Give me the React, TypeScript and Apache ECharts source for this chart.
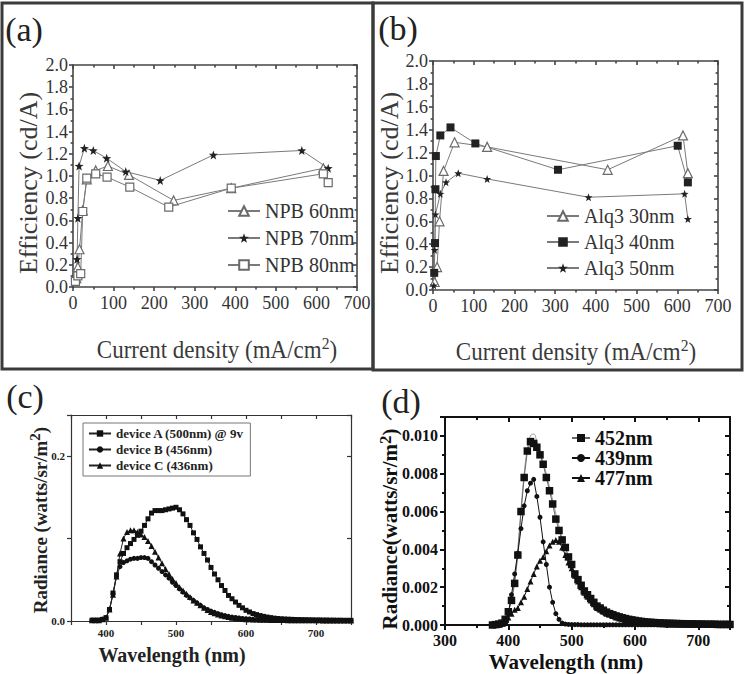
import React, { useEffect, useRef } from 'react';
import * as echarts from 'echarts';

const SERIF = 'Liberation Serif';

// ---- (a) efficiency vs current density, NPB thickness series [mA/cm2, cd/A]
const npb60: [number, number][] = [
  [8, 0.08], [12, 0.18], [16, 0.34], [24, 0.69], [34, 0.97], [56, 1.05],
  [86, 1.09], [138, 1.01], [248, 0.78], [390, 0.89], [617, 1.07],
];
const npb70: [number, number][] = [
  [8, 0.07], [10, 0.25], [12, 0.62], [15, 1.09], [28, 1.25], [50, 1.23],
  [83, 1.16], [130, 1.04], [215, 0.96], [346, 1.19], [564, 1.23], [629, 1.07],
];
const npb80: [number, number][] = [
  [6, 0.05], [12, 0.1], [19, 0.12], [24, 0.68], [34, 0.98], [56, 1.02],
  [84, 0.99], [140, 0.9], [236, 0.72], [390, 0.89], [617, 1.02], [629, 0.94],
];

// ---- (b) efficiency vs current density, Alq3 thickness series
const alq30: [number, number][] = [
  [4, 0.07], [10, 0.2], [16, 0.6], [26, 1.04], [53, 1.29], [133, 1.25],
  [429, 1.05], [614, 1.35], [626, 1.02],
];
const alq40: [number, number][] = [
  [3, 0.15], [5, 0.41], [6, 0.88], [7, 1.17], [18, 1.35], [43, 1.42],
  [104, 1.28], [307, 1.05], [601, 1.26], [626, 0.94],
];
const alq50: [number, number][] = [
  [2, 0.04], [4, 0.35], [6, 0.66], [18, 0.84], [32, 0.94], [62, 1.02],
  [133, 0.97], [382, 0.81], [618, 0.84], [626, 0.62],
];

// ---- (c) radiance spectra, sampled every 5 nm from 380 to 750 nm
const wlCStart = 380;
const devA = [
  0.001, 0.001, 0.001, 0.002, 0.004,
  0.014, 0.034, 0.056, 0.072, 0.082, 0.089, 0.094, 0.099, 0.104, 0.109,
  0.116, 0.124, 0.131, 0.134, 0.134, 0.134, 0.135, 0.136, 0.137, 0.138,
  0.135, 0.130, 0.123, 0.116, 0.107, 0.099, 0.090, 0.082, 0.074, 0.065,
  0.057, 0.050, 0.043, 0.037, 0.031, 0.027, 0.023, 0.019, 0.016, 0.013,
  0.011, 0.009, 0.0078, 0.0066, 0.0056, 0.0048, 0.0041, 0.0035, 0.003, 0.0027,
  0.0024, 0.0022, 0.002, 0.0018, 0.0017, 0.0016, 0.0015, 0.0014, 0.0013, 0.0012,
  0.0012, 0.0011, 0.0011, 0.001, 0.001, 0.0009, 0.0009, 0.0008, 0.0008, 0.0008,
];
const devB = [
  0.001, 0.001, 0.001, 0.002, 0.004,
  0.014, 0.033, 0.054, 0.066, 0.071, 0.073, 0.075, 0.076, 0.076, 0.077,
  0.077, 0.076, 0.072, 0.068, 0.064, 0.060, 0.056, 0.052, 0.047, 0.043,
  0.039, 0.035, 0.031, 0.028, 0.025, 0.022, 0.019, 0.016, 0.014, 0.012,
  0.0105, 0.009, 0.0077, 0.0066, 0.0056, 0.0048, 0.0042, 0.0036, 0.0031, 0.0027,
  0.0024, 0.0021, 0.0019, 0.0017, 0.0016, 0.0015, 0.0014, 0.0013, 0.0013, 0.0012,
  0.0012, 0.0011, 0.0011, 0.001, 0.001, 0.001, 0.0009, 0.0009, 0.0009, 0.0008,
  0.0008, 0.0008, 0.0008, 0.0007, 0.0007, 0.0007, 0.0007, 0.0007, 0.0007, 0.0007,
];
const devC = [
  0.001, 0.001, 0.001, 0.002, 0.004,
  0.014, 0.032, 0.054, 0.082, 0.100, 0.108, 0.110, 0.110, 0.108, 0.105,
  0.102, 0.097, 0.091, 0.084, 0.077, 0.070, 0.063, 0.057, 0.051, 0.046,
  0.041, 0.037, 0.033, 0.029, 0.025, 0.022, 0.019, 0.016, 0.0135, 0.011,
  0.0095, 0.008, 0.0068, 0.0057, 0.0048, 0.004, 0.0034, 0.0029, 0.0025, 0.0022,
  0.002, 0.0018, 0.0017, 0.0016, 0.0015, 0.0014, 0.0013, 0.0012, 0.0012, 0.0011,
  0.0011, 0.001, 0.001, 0.001, 0.0009, 0.0009, 0.0009, 0.0008, 0.0008, 0.0008,
  0.0008, 0.0007, 0.0007, 0.0007, 0.0007, 0.0007, 0.0006, 0.0006, 0.0006, 0.0006,
];

// ---- (d) radiance spectra, sampled every 5 nm from 375 to 750 nm
const wlDStart = 375;
const peak452 = [
  0, 0.00002, 0.00005, 0.0001, 0.0003, 0.0007,
  0.0013, 0.0022, 0.0037, 0.0060, 0.0078, 0.0092, 0.0097, 0.0096, 0.0094, 0.0090,
  0.0085, 0.0078, 0.0071, 0.0064, 0.0056, 0.0050, 0.0045, 0.0041, 0.0036, 0.0032,
  0.0027, 0.0024, 0.0021, 0.0018, 0.0016, 0.0014, 0.0012, 0.0010, 0.0009, 0.00078,
  0.00068, 0.0006, 0.00054, 0.00048, 0.00043, 0.00038, 0.00034, 0.0003, 0.00027, 0.00024,
  0.00021, 0.00019, 0.00017, 0.00015, 0.00014, 0.00013, 0.00012, 0.00011, 0.0001, 0.00009,
  0.00009, 0.00008, 0.00008, 0.00007, 0.00007, 0.00006, 0.00006, 0.00006, 0.00005, 0.00005,
  0.00005, 0.00004, 0.00004, 0.00004, 0.00004, 0.00003, 0.00003, 0.00003, 0.00003, 0.00003,
];
const peak439 = [
  0, 0, 0, 0.00003, 0.0001, 0.0006,
  0.0016, 0.0027, 0.0038, 0.0051, 0.0063, 0.0071, 0.0075, 0.0077, 0.0068, 0.0057,
  0.0044, 0.0032, 0.0020, 0.0012, 0.0006, 0.0003, 0.0001, 0.00005, 0.00003, 0.00002,
  0.00002, 0.00002, 0.00001, 0.00001, 0.00001, 0.00001, 0.00001, 0.00001, 0.00001, 0.00001,
  0.00001, 0.00001, 0.00001, 0.00001, 0.00001, 0.00001, 0.00001, 0.00001, 0.00001, 0.00001,
  0.00001, 0.00001, 0.00001, 0.00001, 0.00001, 0.00001, 0.00001, 0.00001, 0.00001, 0.00001,
  0.00001, 0.00001, 0.00001, 0.00001, 0.00001, 0.00001, 0.00001, 0.00001, 0.00001, 0.00001,
  0.00001, 0.00001, 0.00001, 0.00001, 0.00001, 0.00001, 0.00001, 0.00001, 0.00001, 0.00001,
];
const peak477 = [
  0, 0, 0.00003, 0.0001, 0.0002, 0.0004,
  0.0006, 0.0008, 0.0009, 0.0012, 0.0015, 0.0019, 0.0023, 0.0027, 0.0031, 0.0034,
  0.0036, 0.0039, 0.0042, 0.0044, 0.0045, 0.0044, 0.0041, 0.0037, 0.0033, 0.0030,
  0.0026, 0.0023, 0.0020, 0.0017, 0.0015, 0.0013, 0.0011, 0.0009, 0.0008, 0.0007,
  0.0006, 0.00055, 0.00047, 0.0004, 0.00035, 0.0003, 0.00025, 0.0002, 0.00017, 0.00015,
  0.00012, 0.0001, 0.00008, 0.00007, 0.00006, 0.00005, 0.00005, 0.00004, 0.00004, 0.00003,
  0.00003, 0.00003, 0.00003, 0.00002, 0.00002, 0.00002, 0.00002, 0.00002, 0.00002, 0.00002,
  0.00002, 0.00002, 0.00002, 0.00002, 0.00002, 0.00002, 0.00002, 0.00002, 0.00002, 0.00002,
];
// thin smooth trace drawn over the 452nm spectrum
const traceWl = [395, 400, 405, 410, 415, 420, 425, 430, 435, 440, 445, 450, 455, 460, 465, 470, 475, 480, 485, 490, 495, 500];
const traceVal = [
  0.0003, 0.0007, 0.0014, 0.0025, 0.0041, 0.0061, 0.0080, 0.0093, 0.0100, 0.0101, 0.0097,
  0.0092, 0.0086, 0.0080, 0.0073, 0.0066, 0.0059, 0.0052, 0.0046, 0.0041, 0.0036, 0.0032,
];

const STAR =
  'path://M0,-10L2.35,-3.24L9.51,-3.09L3.8,1.24L5.88,8.09L0,4L-5.88,8.09L-3.8,1.24L-9.51,-3.09L-2.35,-3.24Z';

const onGrid = (start: number, vals: number[]) => vals.map((v, i) => [start + i * 5, v]);

type AxisCfg = {
  min: number; max: number; interval: number; minorSplit: number;
  color: string; width: number; tickLen: number;
  label: (v: number) => string; font: any; margin: number;
};

function boxAxes(grid: number, x: AxisCfg, y: AxisCfg) {
  const mk = (c: AxisCfg, position: string, main: boolean) => ({
    type: 'value',
    gridIndex: grid,
    position,
    min: c.min,
    max: c.max,
    interval: c.interval,
    axisLine: { show: true, onZero: false, lineStyle: { color: c.color, width: c.width } },
    axisTick: { show: true, inside: !main, length: c.tickLen, lineStyle: { color: c.color, width: c.width } },
    minorTick: { show: true, splitNumber: c.minorSplit, length: c.tickLen * 0.6, lineStyle: { color: c.color, width: c.width } },
    splitLine: { show: false },
    minorSplitLine: { show: false },
    axisLabel: main
      ? { show: true, formatter: c.label, margin: c.margin, showMinLabel: true, showMaxLabel: true, ...c.font }
      : { show: false },
  });
  return {
    xAxes: [mk(x, 'bottom', true), mk(x, 'top', false)],
    yAxes: [mk(y, 'left', true), mk(y, 'right', false)],
  };
}

export default function App() {
  const ref = useRef<HTMLDivElement>(null);

  useEffect(() => {
    if (!ref.current) return;
    const chart = echarts.init(ref.current, undefined, { renderer: 'svg' });

    const grayAx = '#454545';
    const serifTick = { fontFamily: SERIF, fontSize: 18, color: '#333' };
    const effX: AxisCfg = {
      min: 0, max: 700, interval: 100, minorSplit: 2, color: grayAx, width: 1.6, tickLen: 4,
      label: (v) => String(v), font: serifTick, margin: 7,
    };
    const effY: AxisCfg = {
      min: 0, max: 2, interval: 0.2, minorSplit: 2, color: grayAx, width: 1.6, tickLen: 4,
      label: (v) => v.toFixed(1), font: serifTick, margin: 5,
    };
    const a = boxAxes(0, effX, effY);
    const b = boxAxes(1, effX, effY);
    const c = boxAxes(
      2,
      {
        min: 350, max: 750, interval: 50, minorSplit: 1, color: '#333', width: 1.2, tickLen: 4,
        label: (v) => (v % 100 === 0 && v >= 400 && v <= 700 ? String(v) : ''),
        font: { fontFamily: SERIF, fontSize: 11, fontWeight: 'bold', color: '#222' }, margin: 6,
      },
      {
        min: 0, max: 0.25, interval: 0.1, minorSplit: 1, color: '#333', width: 1.2, tickLen: 4,
        label: (v) => (Math.abs(v) < 1e-9 ? '0.0' : Math.abs(v - 0.2) < 1e-9 ? '0.2' : ''),
        font: { fontFamily: SERIF, fontSize: 11, fontWeight: 'bold', color: '#222' }, margin: 6,
      },
    );
    const d = boxAxes(
      3,
      {
        min: 300, max: 750, interval: 100, minorSplit: 2, color: '#111', width: 2, tickLen: 5,
        label: (v) => (v <= 700 ? String(v) : ''),
        font: { fontFamily: SERIF, fontSize: 16, fontWeight: 'bold', color: '#111' }, margin: 7,
      },
      {
        min: 0, max: 0.011, interval: 0.002, minorSplit: 2, color: '#111', width: 2, tickLen: 5,
        label: (v) => (v <= 0.0105 ? v.toFixed(3) : ''),
        font: { fontFamily: SERIF, fontSize: 16, fontWeight: 'bold', color: '#111' }, margin: 7,
      },
    );

    const xAxis = [...a.xAxes, ...b.xAxes, ...c.xAxes, ...d.xAxes];
    const yAxis = [...a.yAxes, ...b.yAxes, ...c.yAxes, ...d.yAxes];

    const effLine = (
      name: string, data: [number, number][], gi: number, symbol: string, size: number, filled: boolean,
    ) => ({
      name,
      type: 'line',
      xAxisIndex: gi * 2,
      yAxisIndex: gi * 2,
      data,
      symbol,
      symbolSize: size,
      showAllSymbol: true,
      lineStyle: { color: '#7a7a7a', width: 1 },
      itemStyle: filled
        ? { color: '#222', borderColor: '#222', borderWidth: 0 }
        : { color: '#fff', borderColor: '#6a6a6a', borderWidth: 1.2 },
      emphasis: { disabled: true },
    });

    const specLine = (
      name: string, data: number[][], gi: number, symbol: string, size: number, lineColor: string,
    ) => ({
      name,
      type: 'line',
      xAxisIndex: gi * 2,
      yAxisIndex: gi * 2,
      data,
      symbol,
      symbolSize: size,
      showAllSymbol: true,
      lineStyle: { color: lineColor, width: 1 },
      itemStyle: { color: '#111', borderWidth: 0 },
      emphasis: { disabled: true },
    });

    const series: any[] = [
      effLine('NPB 60nm', npb60, 0, 'triangle', 9, false),
      effLine('NPB 70nm', npb70, 0, STAR, 9, true),
      effLine('NPB 80nm', npb80, 0, 'rect', 8, false),
      effLine('Alq3 30nm', alq30, 1, 'triangle', 9, false),
      effLine('Alq3 40nm', alq40, 1, 'rect', 8, true),
      effLine('Alq3 50nm', alq50, 1, STAR, 8, true),
      specLine('device A (500nm) @ 9v', onGrid(wlCStart, devA), 2, 'rect', 5, '#222'),
      specLine('device B (456nm)', onGrid(wlCStart, devB), 2, 'circle', 5, '#222'),
      specLine('device C (436nm)', onGrid(wlCStart, devC), 2, 'triangle', 6, '#222'),
      {
        name: 'trace',
        type: 'line',
        xAxisIndex: 6,
        yAxisIndex: 6,
        data: traceWl.map((w, i) => [w, traceVal[i]]),
        symbol: 'none',
        smooth: true,
        lineStyle: { color: '#9a9a9a', width: 1 },
        emphasis: { disabled: true },
        z: 1,
      },
      specLine('452nm', onGrid(wlDStart, peak452), 3, 'rect', 7.5, '#666'),
      specLine('439nm', onGrid(wlDStart, peak439), 3, 'circle', 5, '#111'),
      specLine('477nm', onGrid(wlDStart, peak477), 3, 'triangle', 6, '#111'),
    ];

    const legendBase = {
      orient: 'vertical',
      selectedMode: false,
      backgroundColor: 'transparent',
    };

    const legend: any[] = [
      {
        ...legendBase,
        data: ['NPB 60nm', 'NPB 70nm', 'NPB 80nm'],
        left: 227, top: 200, itemWidth: 32, itemHeight: 12, itemGap: 5, padding: 0,
        textStyle: { fontFamily: SERIF, fontSize: 20, lineHeight: 22, color: '#333' },
      },
      {
        ...legendBase,
        data: ['Alq3 30nm', 'Alq3 40nm', 'Alq3 50nm'],
        left: 546, top: 205, itemWidth: 32, itemHeight: 12, itemGap: 4, padding: 0,
        textStyle: { fontFamily: SERIF, fontSize: 20, lineHeight: 22, color: '#333' },
      },
      {
        ...legendBase,
        data: ['device A (500nm) @ 9v', 'device B (456nm)', 'device C (436nm)'],
        left: 83, top: 423, itemWidth: 22, itemHeight: 8, itemGap: 1,
        padding: [3, 6, 3, 5], borderColor: '#777', borderWidth: 1, backgroundColor: '#fff',
        textStyle: { fontFamily: SERIF, fontSize: 13, fontWeight: 'bold', lineHeight: 15, color: '#222' },
      },
      {
        ...legendBase,
        data: ['452nm', '439nm', '477nm'],
        left: 571, top: 428, itemWidth: 18, itemHeight: 10, itemGap: 0, padding: 0,
        textStyle: { fontFamily: SERIF, fontSize: 20, fontWeight: 'bold', lineHeight: 20, color: '#111' },
      },
    ];

    const supTitle = (
      pre: string, post: string, size: number, weight: string, supSize: number, color: string,
    ) => ({
      text: `{t|${pre}}{s|2}{t|${post}}`,
      fill: color,
      align: 'center',
      verticalAlign: 'middle',
      rich: {
        t: { fontFamily: SERIF, fontSize: size, fontWeight: weight, lineHeight: size + 6, verticalAlign: 'middle' },
        s: { fontFamily: SERIF, fontSize: supSize, fontWeight: weight, lineHeight: supSize, verticalAlign: 'top' },
      },
    });

    const panelLabel = (text: string, x: number, y: number) => ({
      type: 'text',
      x,
      y,
      style: { text, fill: '#222', fontFamily: SERIF, fontSize: 34, align: 'center', verticalAlign: 'middle' },
    });

    const plainText = (text: string, x: number, y: number, size: number, weight: string, color: string, extra: any = {}) => ({
      type: 'text',
      x,
      y,
      ...extra,
      style: { text, fill: color, fontFamily: SERIF, fontSize: size, fontWeight: weight, align: 'center', verticalAlign: 'middle' },
    });

    const graphic: any[] = [
      {
        type: 'rect',
        shape: { x: 2, y: 3, width: 371, height: 366 },
        style: { fill: 'none', stroke: '#3a3a3a', lineWidth: 3 },
        z: 50,
      },
      {
        type: 'rect',
        shape: { x: 373, y: 3, width: 369, height: 367 },
        style: { fill: 'none', stroke: '#3a3a3a', lineWidth: 3 },
        z: 50,
      },
      panelLabel('(a)', 24, 29),
      panelLabel('(b)', 398, 28),
      panelLabel('(c)', 25, 396),
      panelLabel('(d)', 401, 401),
      plainText('Efficiency (cd/A)', 28, 183, 26, 'normal', '#3a3a3a', { rotation: Math.PI / 2 }),
      plainText('Efficiency (cd/A)', 389, 183, 26, 'normal', '#3a3a3a', { rotation: Math.PI / 2 }),
      {
        type: 'text',
        x: 217, y: 350, scaleX: 0.92,
        style: supTitle('Current density (mA/cm', ')', 25, 'normal', 17, '#3a3a3a'),
      },
      {
        type: 'text',
        x: 576, y: 352, scaleX: 0.92,
        style: supTitle('Current density (mA/cm', ')', 25, 'normal', 17, '#3a3a3a'),
      },
      {
        type: 'text',
        x: 40, y: 520, rotation: Math.PI / 2,
        style: supTitle('Radiance (watts/sr/m', ')', 19, 'bold', 15, '#222'),
      },
      plainText('Wavelength (nm)', 172, 655, 20, 'bold', '#222'),
      {
        type: 'text',
        x: 390, y: 529, rotation: Math.PI / 2,
        style: supTitle('Radiance(watts/sr/m', ')', 21, 'bold', 17, '#111'),
      },
      plainText('Wavelength (nm)', 566, 662, 21, 'bold', '#111'),
    ];

    chart.setOption({
      animation: false,
      backgroundColor: '#fff',
      grid: [
        { left: 73, top: 65, width: 284, height: 222 },
        { left: 433, top: 61, width: 285, height: 229 },
        { left: 71, top: 415, width: 280, height: 206 },
        { left: 445, top: 417, width: 285, height: 208 },
      ],
      xAxis,
      yAxis,
      legend,
      series,
      graphic,
    });

    return () => chart.dispose();
  }, []);

  return (
    <div
      ref={ref}
      style={{ position: 'absolute', left: 0, top: 0, width: 745, height: 674, background: '#fff' }}
    />
  );
}
